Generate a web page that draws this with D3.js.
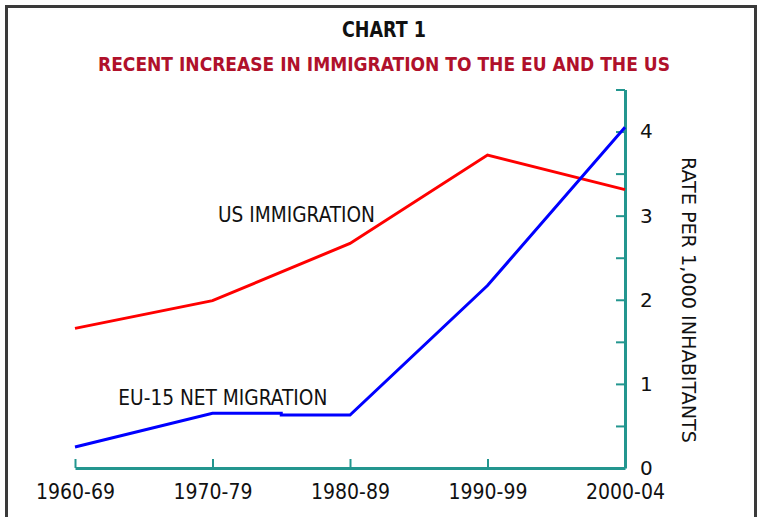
<html>
<head>
	<meta charset='utf-8' />
	<title>Chart 1</title>
	<script src="https://cdn.jsdelivr.net/npm/d3@7"></script>
	<style>
	body { margin: 0; background: #fff; }
	text { font-family: "DejaVu Sans Condensed", "DejaVu Sans", sans-serif; }
	.axis path, .axis line { stroke: #23968f; stroke-width: 3; }
	.axis text { fill: #111; }
	</style>
</head>
<body>
<script>

	// categories along the bottom (decades)
	var periods = ["1960-69", "1970-79", "1980-89", "1990-99", "2000-04"];

	// US immigration, rate per 1,000
	var usX = [0, 1, 2, 3, 4];
	var usRate = [1.66, 1.99, 2.67, 3.72, 3.31];

	// EU-15 net migration, has one extra point mid 70s/80s
	var euX = [0, 1, 1.5, 1.5, 2, 3, 4];
	var euRate = [0.25, 0.65, 0.65, 0.63, 0.63, 2.17, 4.05];

	var yTicks = [0, 0.5, 1, 1.5, 2, 2.5, 3, 3.5, 4, 4.5];

	var width = 757, height = 517;

	var svg = d3.select("body").append("svg")
		.attr("width", width)
		.attr("height", height);

	// frame round the chart (no bottom edge, it runs off the page)
	svg.append("path")
		.attr("d", "M6.5," + height + " V6.5 H755.5 V" + height)
		.attr("fill", "none")
		.attr("stroke", "#3a3a3a")
		.attr("stroke-width", 3);

	var xScale = d3.scaleLinear().domain([0, 4]).range([75, 625]);
	var yScale = d3.scaleLinear().domain([0, 4.5]).range([468, 89.5]);

	var usData = usX.map((x, i) => ({x: x, v: usRate[i]}));
	var euData = euX.map((x, i) => ({x: x, v: euRate[i]}));

	var line = d3.line()
		.x(d => xScale(d.x))
		.y(d => yScale(d.v));

	// titles
	svg.append("text")
		.attr("x", 384).attr("y", 37)
		.attr("text-anchor", "middle")
		.attr("font-weight", "bold")
		.attr("font-size", "21px")
		.attr("fill", "#111")
		.attr("textLength", 84).attr("lengthAdjust", "spacingAndGlyphs")
		.text("CHART 1");

	svg.append("text")
		.attr("x", 384).attr("y", 71)
		.attr("text-anchor", "middle")
		.attr("font-weight", "bold")
		.attr("font-size", "20px")
		.attr("fill", "#b0112b")
		.attr("textLength", 572).attr("lengthAdjust", "spacingAndGlyphs")
		.text("RECENT INCREASE IN IMMIGRATION TO THE EU AND THE US");

	// axes
	var xAxis = svg.append("g")
		.attr("class", "axis")
		.attr("transform", "translate(0," + yScale(0) + ")")
		.call(d3.axisBottom(xScale)
			.tickValues(d3.range(periods.length))
			.tickFormat(i => periods[i])
			.tickSizeInner(-9).tickSizeOuter(0).tickPadding(16));
	xAxis.selectAll("line").style("stroke-width", 2);
	xAxis.selectAll("text").style("font-size", "21px");

	var yAxis = svg.append("g")
		.attr("class", "axis")
		.attr("transform", "translate(" + xScale(4) + ",0)")
		.call(d3.axisRight(yScale)
			.tickValues(yTicks)
			.tickFormat(d => Number.isInteger(d) ? d : "")
			.tickSizeInner(-9).tickSizeOuter(0).tickPadding(15));
	yAxis.selectAll("line").style("stroke-width", 2);
	yAxis.selectAll("text").style("font-family", "DejaVu Sans").style("font-size", "20px");

	// series
	svg.append("path")
		.datum(usData)
		.attr("fill", "none")
		.attr("stroke", "#ff0000")
		.attr("stroke-width", 3)
		.attr("d", line);

	svg.append("path")
		.datum(euData)
		.attr("fill", "none")
		.attr("stroke", "#0000ff")
		.attr("stroke-width", 3)
		.attr("d", line);

	// line labels
	svg.append("text")
		.attr("x", xScale(1.04)).attr("y", yScale(2.92))
		.attr("font-size", "21px")
		.attr("fill", "#111")
		.attr("textLength", 157).attr("lengthAdjust", "spacingAndGlyphs")
		.text("US IMMIGRATION");

	svg.append("text")
		.attr("x", xScale(0.315)).attr("y", yScale(0.75))
		.attr("font-size", "21px")
		.attr("fill", "#111")
		.attr("textLength", 209).attr("lengthAdjust", "spacingAndGlyphs")
		.text("EU-15 NET MIGRATION");

	// y axis title, reads top to bottom
	svg.append("text")
		.attr("transform", "translate(682,300) rotate(90)")
		.attr("text-anchor", "middle")
		.attr("font-size", "20px")
		.attr("fill", "#111")
		.attr("textLength", 286).attr("lengthAdjust", "spacingAndGlyphs")
		.text("RATE PER 1,000 INHABITANTS");

</script>
</body>
</html>
